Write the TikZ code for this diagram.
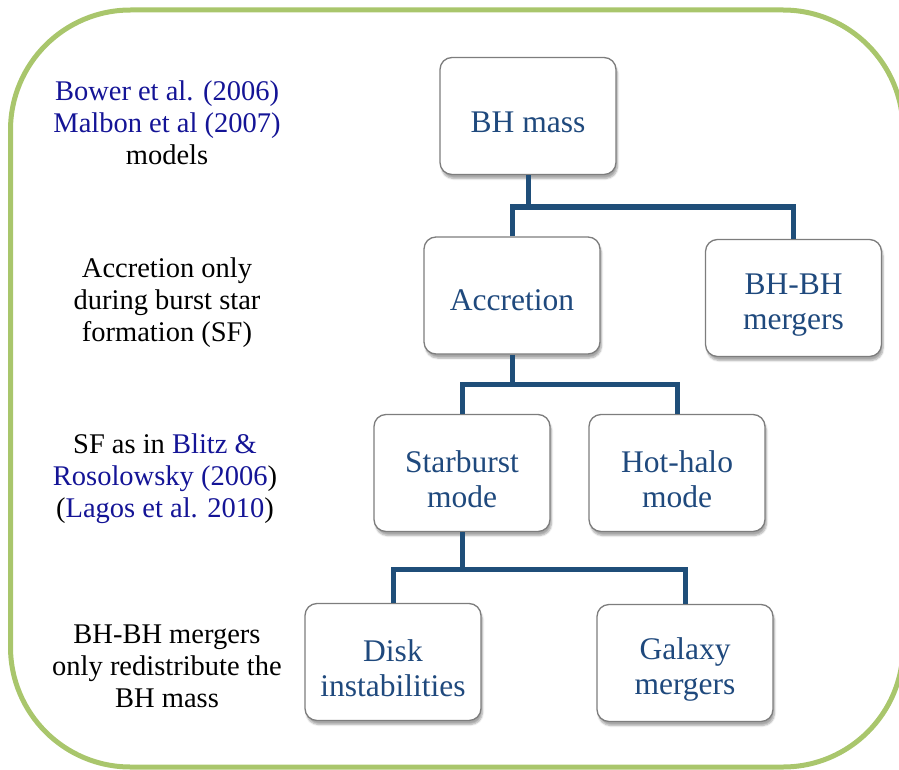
\documentclass[tikz,border=0pt]{standalone}
\usepackage{fontspec}
\setmainfont{Liberation Serif}
\usetikzlibrary{shadows,shadows.blur}
\definecolor{frameg}{RGB}{169,198,108}
\definecolor{boxtext}{RGB}{31,73,125}
\definecolor{connc}{RGB}{31,78,121}
\definecolor{refblue}{RGB}{20,20,150}
\definecolor{boxedge}{RGB}{125,125,125}
\tikzset{
  nodebox/.style={draw=boxedge, line width=1.3pt, fill=white, rounded corners=12pt,
    minimum width=176pt, minimum height=117pt, inner sep=0pt,
    blur shadow={shadow xshift=1.5pt, shadow yshift=-4pt, shadow blur steps=6, shadow opacity=35}},
  boxlabel/.style={align=center, text=boxtext, font=\fontsize{31.5}{35}\selectfont, inner sep=0pt},
  sidetext/.style={align=center, text=black, font=\fontsize{28.5}{32}\selectfont, inner sep=0pt},
  conn/.style={draw=connc, line width=5pt, line join=miter},
}
\newcommand{\rb}[1]{\textcolor{refblue}{#1}}
\begin{document}
\begin{tikzpicture}[x=1pt,y=-1pt]
\useasboundingbox (0,0) rectangle (899,770);
\draw[frameg, line width=5pt, rounded corners=120pt] (10.5,10) rectangle (903,767);

\node[sidetext] (t1) at (167,123) {\rb{Bower et al. (2006)}\\\rb{Malbon et al (2007)}\\models};
\node[sidetext] (t2) at (167,303) {Accretion only\\during burst star\\formation (SF)};
\node[sidetext] (t3) at (165,479) {SF as in \rb{Blitz \&}\\\rb{Rosolowsky (2006})\\(\rb{Lagos et al. 2010})};
\node[sidetext] (t4) at (167,666) {BH-BH mergers\\only redistribute the\\BH mass};

\node[nodebox] (bh) at (528,116) {};
\node[nodebox] (acc) at (512,295.5) {};
\node[nodebox] (bbh) at (793.5,298) {};
\node[nodebox] (sb) at (462,473) {};
\node[nodebox] (hh) at (677,473) {};
\node[nodebox] (disk) at (393,662) {};
\node[nodebox] (gal) at (685,663) {};

\node[boxlabel] (bhL) at ([yshift=-6pt]bh.center) {BH mass};
\node[boxlabel] (accL) at ([yshift=-5pt]acc.center) {Accretion};
\node[boxlabel] (bbhL) at ([yshift=-7pt]bbh.center) {BH-BH\\mergers};
\node[boxlabel] (sbL) at ([yshift=-6pt]sb.center) {Starburst\\mode};
\node[boxlabel] (hhL) at ([yshift=-6pt]hh.center) {Hot-halo\\mode};
\node[boxlabel] (diskL) at ([yshift=-6pt]disk.center) {Disk\\instabilities};
\node[boxlabel] (galL) at ([yshift=-6pt]gal.center) {Galaxy\\mergers};

\coordinate (j1) at (528,207);
\coordinate (j2) at (512,384);
\coordinate (j3) at (462,569);

\draw[conn] (bh.south) -- (j1);
\draw[conn] (acc.north) |- (j1) -| (bbh.north);
\draw[conn] (acc.south) -- (j2);
\draw[conn] (sb.north) |- (j2) -| (hh.north);
\draw[conn] (sb.south) -- (j3);
\draw[conn] (disk.north) |- (j3) -| (gal.north);
\end{tikzpicture}
\end{document}
